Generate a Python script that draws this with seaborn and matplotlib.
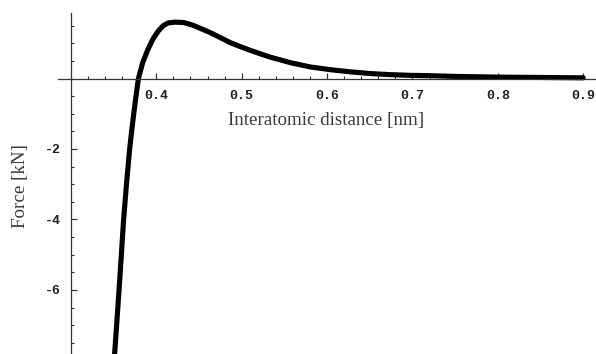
import matplotlib
matplotlib.use("Agg")
import matplotlib.pyplot as plt
from matplotlib.ticker import MultipleLocator, FixedLocator
import seaborn as sns
import pandas as pd

# Interatomic force curve
distance_nm = [0.3495, 0.351, 0.3565, 0.3616, 0.3650, 0.3686, 0.372, 0.3755, 0.379,
               0.384, 0.390, 0.396, 0.402, 0.408, 0.414, 0.422, 0.432, 0.442,
               0.452, 0.4635, 0.475, 0.4865, 0.499, 0.510, 0.522, 0.533, 0.545,
               0.557, 0.580, 0.604, 0.627, 0.651, 0.674, 0.698, 0.721, 0.750,
               0.800, 0.850, 0.900]
force_kn = [-8.3, -7.86, -5.94, -4.03, -3.00, -2.03, -1.30, -0.62, 0.0,
            0.45, 0.82, 1.12, 1.34, 1.50, 1.58, 1.60, 1.59, 1.52,
            1.42, 1.30, 1.16, 1.02, 0.90, 0.80, 0.70, 0.61, 0.53,
            0.45, 0.33, 0.25, 0.19, 0.14, 0.11, 0.09, 0.08, 0.06,
            0.04, 0.03, 0.02]

x_ticks = [0.4, 0.5, 0.6, 0.7, 0.8, 0.9]
y_ticks = [-6, -4, -2]

df = pd.DataFrame({"distance": distance_nm, "force": force_kn})

sns.set_style("ticks")
plt.rcParams["font.family"] = ["DejaVu Sans"]

fig = plt.figure(figsize=(5.96, 3.54), dpi=100)
ax = fig.add_axes([58 / 596, 0.0, 538 / 596, 341 / 354])

sns.lineplot(data=df, x="distance", y="force", ax=ax, color="black",
             linewidth=3.7, sort=False, estimator=None)

ax.set_xlim(0.2848, 0.915)
ax.set_ylim(-7.82, 1.86)

# Axes crossing at (0.3, 0)
for side in ("top", "right"):
    ax.spines[side].set_visible(False)
ax.spines["left"].set_position(("data", 0.3))
ax.spines["bottom"].set_position(("data", 0.0))
for side in ("left", "bottom"):
    ax.spines[side].set_color("#333333")
    ax.spines[side].set_linewidth(0.9)

ax.xaxis.set_major_locator(FixedLocator(x_ticks))
ax.xaxis.set_minor_locator(MultipleLocator(0.02))
ax.yaxis.set_major_locator(FixedLocator(y_ticks))
ax.yaxis.set_minor_locator(MultipleLocator(0.5))
ax.set_xticklabels([f"{v:.1f}" for v in x_ticks])
ax.set_yticklabels([f"{v}" for v in y_ticks])

for lab in ax.get_xticklabels() + ax.get_yticklabels():
    lab.set_fontfamily("Liberation Mono")
    lab.set_fontweight("bold")
    lab.set_fontsize(9.5)
    lab.set_color("#222222")

ax.tick_params(axis="both", which="both", bottom=True, left=True,
               top=False, right=False, direction="in", color="#333333")
ax.tick_params(axis="both", which="major", length=4, width=0.9)
ax.tick_params(axis="both", which="minor", length=2.2, width=0.8)
ax.tick_params(axis="x", which="major", pad=8)
ax.tick_params(axis="y", which="major", pad=7.5)

ax.set_xlabel("")
ax.set_ylabel("")

fig.text(326 / 596, 1 - 120 / 354, "Interatomic distance [nm]",
         family="Liberation Serif", fontsize=13.7, color="#3a3a3a",
         ha="center", va="center")
fig.text(20 / 596, 1 - 186 / 354, "Force [kN]", family="Liberation Serif",
         fontsize=13.7, color="#3a3a3a", rotation=90, ha="center", va="center")

fig.savefig("out.png", dpi=100, facecolor="white")
